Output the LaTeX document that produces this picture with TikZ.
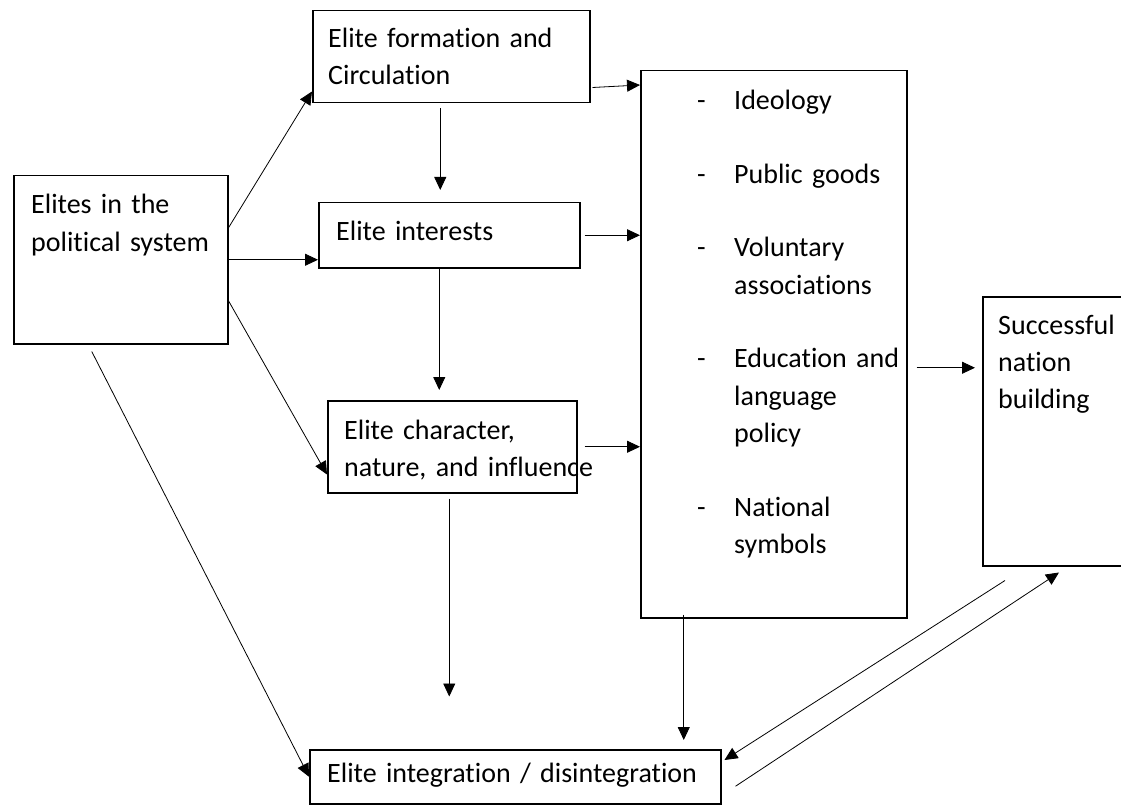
\documentclass[tikz,border=0pt]{standalone}
\usepackage{fontspec}
\setmainfont{Carlito}[Ligatures=NoCommon]
\usepackage{tikz}
\usetikzlibrary{positioning,arrows.meta}
\newcommand{\dashitem}{\makebox[37pt][l]{-}}
\newcommand{\listindent}{\hspace*{37pt}}

\begin{document}
\begin{tikzpicture}[
        x=1pt, y=-1pt,
        every node/.style={
            inner sep=0pt
        },
        box/.style={
            draw,
            line width=1.5pt,
            anchor=north west
        },
        txt/.style={
            anchor=base west,
            align=left,
            text width=520pt,
            font=\fontsize{28}{37}\selectfont
        },
        listtxt/.style={
            txt,
            font=\fontsize{28}{37.5}\selectfont
        },
        arrow/.style={
            -{Triangle[length=13pt,width=12pt]},
            line width=0.8pt
        }
    ]
        \useasboundingbox (0,0) rectangle (1121,805);

        % Boxes
        \node[box, minimum width=214pt, minimum height=168pt] (elites) at (13,175) {};
        \node[box, minimum width=277pt, minimum height=92pt] (formation) at (312,10) {};
        \node[box, minimum width=261pt, minimum height=65pt] (interests) at (318,202) {};
        \node[box, minimum width=249pt, minimum height=92pt] (character) at (327,400) {};
        \node[box, minimum width=266pt, minimum height=547pt] (factors) at (640,70) {};
        \node[box, minimum width=160pt, minimum height=269pt] (nation) at (982,296) {};
        \node[box, minimum width=411pt, minimum height=54pt] (integration) at (309,749) {};

        % Texts
        \node[txt] (elites-t) at ([xshift=18pt,yshift=-39pt]elites.north west) {Elites in the\\political system};
        \node[txt] (formation-t) at ([xshift=16pt,yshift=-38pt]formation.north west) {Elite formation and\\Circulation};
        \node[txt] (interests-t) at ([xshift=18pt,yshift=-38pt]interests.north west) {Elite interests};
        \node[txt] (character-t) at ([xshift=17pt,yshift=-39pt]character.north west) {Elite character,\\nature, and influence};
        \node[listtxt] (factors-t) at ([xshift=57pt,yshift=-40pt]factors.north west) {%
            \dashitem Ideology\\[36pt]
            \dashitem Public goods\\[36pt]
            \dashitem Voluntary\\
            \listindent associations\\[36pt]
            \dashitem Education and\\
            \listindent language\\
            \listindent policy\\[36pt]
            \dashitem National\\
            \listindent symbols};
        \node[txt] (nation-t) at ([xshift=16pt,yshift=-38pt]nation.north west) {Successful\\nation\\building};
        \node[txt] (integration-t) at ([xshift=18pt,yshift=-33pt]integration.north west) {Elite integration / disintegration};

        % Edges from elites
        \draw[arrow] ([yshift=32pt]elites.east) -- ([yshift=12pt]formation.south west);
        \draw[arrow] (elites.east) -- (elites.east -| interests.west);
        \draw[arrow] ([yshift=-41pt]elites.east) -- ([yshift=19pt]character.south west);
        \draw[arrow] ([xshift=-29pt,yshift=-7pt]elites.south) -- (integration.west);

        % Middle column
        \draw[arrow] ([xshift=-11pt,yshift=-5pt]formation.south) -- ([xshift=-11pt,yshift=12pt]formation.south |- interests.north);
        \draw[arrow] ([xshift=-10pt]interests.south) -- ([xshift=-10pt,yshift=10pt]interests.south |- character.north);
        \coordinate (open-end) at ([xshift=-3pt,yshift=-203pt]character.south);
        \draw[arrow] ([xshift=-3pt,yshift=-5pt]character.south) -- (open-end);

        % Into the list
        \draw[arrow] ([xshift=2pt,yshift=16pt]formation.south east) -- ([yshift=-15pt]factors.north west);
        \draw[arrow] ([xshift=4pt]interests.east) -- (interests.east -| factors.west);
        \draw[arrow] ([xshift=7pt]character.east) -- (character.east -| factors.west);

        % Out of the list
        \draw[arrow] ([xshift=9pt,yshift=63.5pt]factors.east |- nation.west) -- ([xshift=-7pt,yshift=63.5pt]nation.west);
        \draw[arrow] ([xshift=-90pt,yshift=4pt]factors.south) -- ([xshift=-90pt,yshift=9pt]factors.south |- integration.north);

        % Integration <-> nation building
        \draw[arrow] ([xshift=23pt,yshift=-14pt]nation.south west) -- ([xshift=3pt,yshift=-11pt]integration.north east);
        \draw[arrow] ([xshift=14pt,yshift=-9.5pt]integration.east) -- ([xshift=77pt,yshift=-6pt]nation.south west);

    \end{tikzpicture}
\end{document}
